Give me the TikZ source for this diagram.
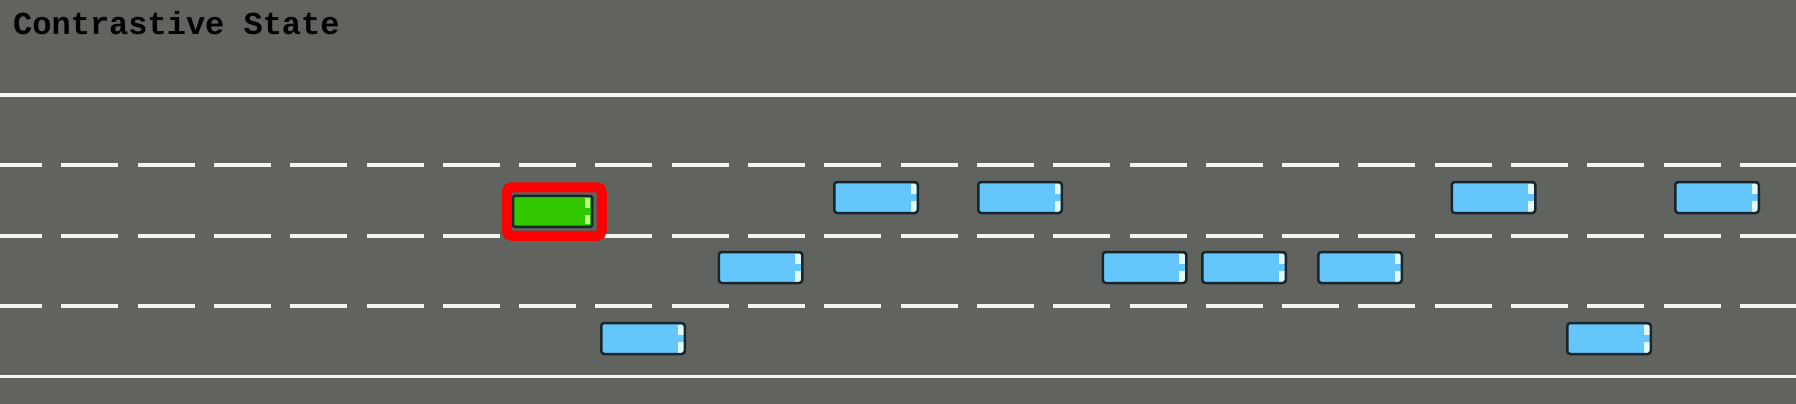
\documentclass[tikz,border=0pt]{standalone}
\usepackage{fontspec}
\newfontfamily\monofont{Liberation Mono}
\definecolor{road}{RGB}{97,99,94}
\definecolor{carblue}{RGB}{100,198,250}
\definecolor{cargreen}{RGB}{50,200,0}
\definecolor{caredge}{RGB}{24,38,44}
\definecolor{lightblue}{RGB}{225,248,255}
\definecolor{lightgreen}{RGB}{190,255,140}
\definecolor{marking}{RGB}{244,244,240}
\tikzset{
  car/.style={draw=caredge, line width=2.5pt, fill=#1, rounded corners=3pt,
    minimum width=83.5pt, minimum height=31pt, inner sep=0pt,
    path picture={
      \fill[lightblue, sharp corners] ([xshift=-7pt,yshift=3.5pt]path picture bounding box.east) rectangle ([xshift=-1pt,yshift=14pt]path picture bounding box.east);
      \fill[lightblue, sharp corners] ([xshift=-7pt,yshift=-3.5pt]path picture bounding box.east) rectangle ([xshift=-1pt,yshift=-14pt]path picture bounding box.east);
    }},
  car/.default=carblue,
  egocar/.style={draw=caredge, line width=2.5pt, fill=cargreen, rounded corners=2pt,
    minimum width=79pt, minimum height=31pt, inner sep=0pt,
    path picture={
      \fill[lightgreen, sharp corners] ([xshift=-7pt,yshift=3.5pt]path picture bounding box.east) rectangle ([xshift=-2pt,yshift=13pt]path picture bounding box.east);
      \fill[lightgreen, sharp corners] ([xshift=-7pt,yshift=-3.5pt]path picture bounding box.east) rectangle ([xshift=-2pt,yshift=-13pt]path picture bounding box.east);
    }},
  highlight/.style={draw=red, line width=10pt, rounded corners=5pt,
    minimum width=95pt, minimum height=48.5pt, inner sep=0pt},
  solidline/.style={draw=marking, line width=3.5pt},
  dashline/.style={draw=marking, line width=3.5pt, dash pattern=on 57pt off 19.3pt, dash phase=15pt},
  title/.style={font=\monofont\bfseries\fontsize{32}{36}\selectfont, text=black, inner sep=0pt, anchor=base west}
}
\begin{document}
\begin{tikzpicture}[x=1pt,y=-1pt]
\useasboundingbox (0,0) rectangle (1796,404);
\fill[road] (0,0) rectangle (1796,404);
\node[title] (t) at (13,35) {Contrastive State};
% lane markings
\coordinate (s1a) at (0,95);  \coordinate (s1b) at (1796,95);
\coordinate (d1a) at (0,165); \coordinate (d1b) at (1796,165);
\coordinate (d2a) at (0,236); \coordinate (d2b) at (1796,236);
\coordinate (d3a) at (0,306); \coordinate (d3b) at (1796,306);
\coordinate (s2a) at (0,376.5); \coordinate (s2b) at (1796,376.5);
\draw[solidline] (s1a) -- (s1b);
\draw[solidline] (s2a) -- (s2b);
\draw[dashline] (d1a) -- (d1b);
\draw[dashline] (d2a) -- (d2b);
\draw[dashline] (d3a) -- (d3b);
% lane 1 cars
\node[car] (a1) at (876,197.5) {};
\node[car] (a2) at (1020,197.5) {};
\node[car] (a3) at (1493.5,197.5) {};
\node[car] (a4) at (1717,197.5) {};
% lane 2 cars
\node[car] (b1) at (760.5,267.5) {};
\node[car] (b2) at (1144.5,267.5) {};
\node[car] (b3) at (1244,267.5) {};
\node[car] (b4) at (1360,267.5) {};
% lane 3 cars
\node[car] (c1) at (643,338.5) {};
\node[car] (c2) at (1609,338.5) {};
% ego vehicle
\node[egocar] (ego) at (552.5,211.3) {};
\node[highlight] (box) at (554.3,211.5) {};
\end{tikzpicture}
\end{document}
